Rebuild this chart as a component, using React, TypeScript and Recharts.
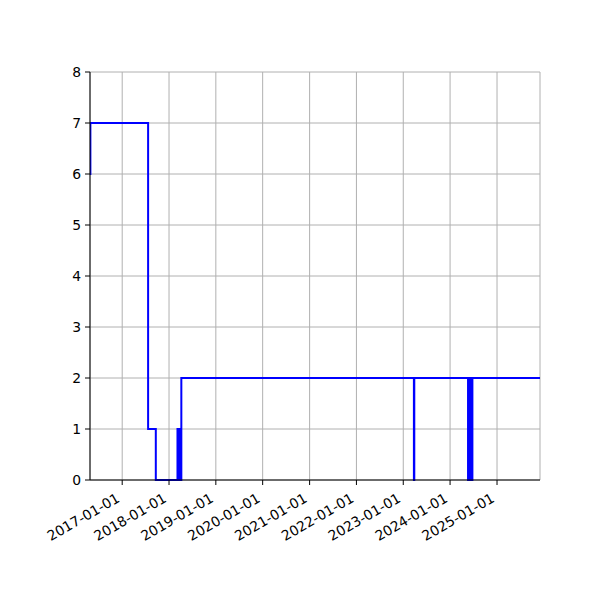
import React from "react";
import { LineChart, Line, XAxis, YAxis, CartesianGrid } from "recharts";

const dates: string[] = [
  "2016-04-25", "2016-04-28", "2017-07-22", "2017-09-20",
  "2018-03-08", "2018-03-16", "2018-03-22", "2018-03-26", "2018-03-30", "2018-04-03", "2018-04-07",
  "2023-03-25", "2023-03-28",
  "2024-05-20", "2024-05-28", "2024-06-03", "2024-06-12", "2024-06-18", "2024-06-23",
  "2025-12-02",
];
const values: number[] = [
  6, 7, 1, 0,
  1, 0, 1, 0, 1, 0, 2,
  0, 2,
  0, 2, 0, 2, 0, 2,
  2,
];
const tickDates: string[] = [
  "2017-01-01", "2018-01-01", "2019-01-01", "2020-01-01", "2021-01-01",
  "2022-01-01", "2023-01-01", "2024-01-01", "2025-01-01",
];
const yTicks: number[] = [0, 1, 2, 3, 4, 5, 6, 7, 8];

const toTs = (s: string) => {
  const [y, m, d] = s.split("-").map(Number);
  return Date.UTC(y, m - 1, d);
};
const fmt = (t: number) => new Date(t).toISOString().slice(0, 10);

const data = dates.map((d, i) => ({ t: toTs(d), v: values[i] }));
const xTicks = tickDates.map(toTs);
const domain = [toTs(dates[0]), toTs(dates[dates.length - 1])];

const FONT = "DejaVu Sans";
const FS = 13.9;

const XTick = (props: any) => {
  const { x, y, payload } = props;
  const tx = x - 1.5;
  const ty = y + 14;
  return (
    <text
      x={tx}
      y={ty}
      transform={`rotate(-30 ${tx} ${ty})`}
      textAnchor="end"
      fontFamily={FONT}
      fontSize={FS}
      fill="#000"
    >
      {fmt(payload.value)}
    </text>
  );
};

const YTick = (props: any) => {
  const { x, y, payload } = props;
  return (
    <text x={x - 2} y={y} textAnchor="end" dy="0.36em" fontFamily={FONT} fontSize={FS} fill="#000">
      {payload.value}
    </text>
  );
};

export default function App() {
  return (
    <div style={{ position: "absolute", left: 0, top: 0, width: 600, height: 600, background: "#fff" }}>
      <LineChart width={600} height={600} data={data} margin={{ top: 72, right: 60, bottom: 0, left: 0 }}>
        <CartesianGrid stroke="#b0b0b0" strokeWidth={1} />
        <XAxis
          dataKey="t"
          type="number"
          scale="time"
          domain={domain}
          ticks={xTicks}
          allowDataOverflow
          height={120}
          tick={<XTick />}
          tickLine={{ stroke: "#000" }}
          tickSize={5}
          axisLine={{ stroke: "#000" }}
          interval={0}
        />
        <XAxis
          xAxisId="top"
          orientation="top"
          dataKey="t"
          type="number"
          domain={domain}
          height={0}
          tick={false}
          tickLine={false}
          axisLine={{ stroke: "#000" }}
        />
        <YAxis
          type="number"
          domain={[0, 8]}
          ticks={yTicks}
          width={90}
          tick={<YTick />}
          tickLine={{ stroke: "#000" }}
          tickSize={5}
          axisLine={{ stroke: "#000" }}
          interval={0}
        />
        <YAxis
          yAxisId="right"
          orientation="right"
          domain={[0, 8]}
          width={0}
          tick={false}
          tickLine={false}
          axisLine={{ stroke: "#000" }}
        />
        <Line
          dataKey="v"
          type="stepAfter"
          stroke="#0000ff"
          strokeWidth={2}
          dot={false}
          isAnimationActive={false}
        />
      </LineChart>
    </div>
  );
}
